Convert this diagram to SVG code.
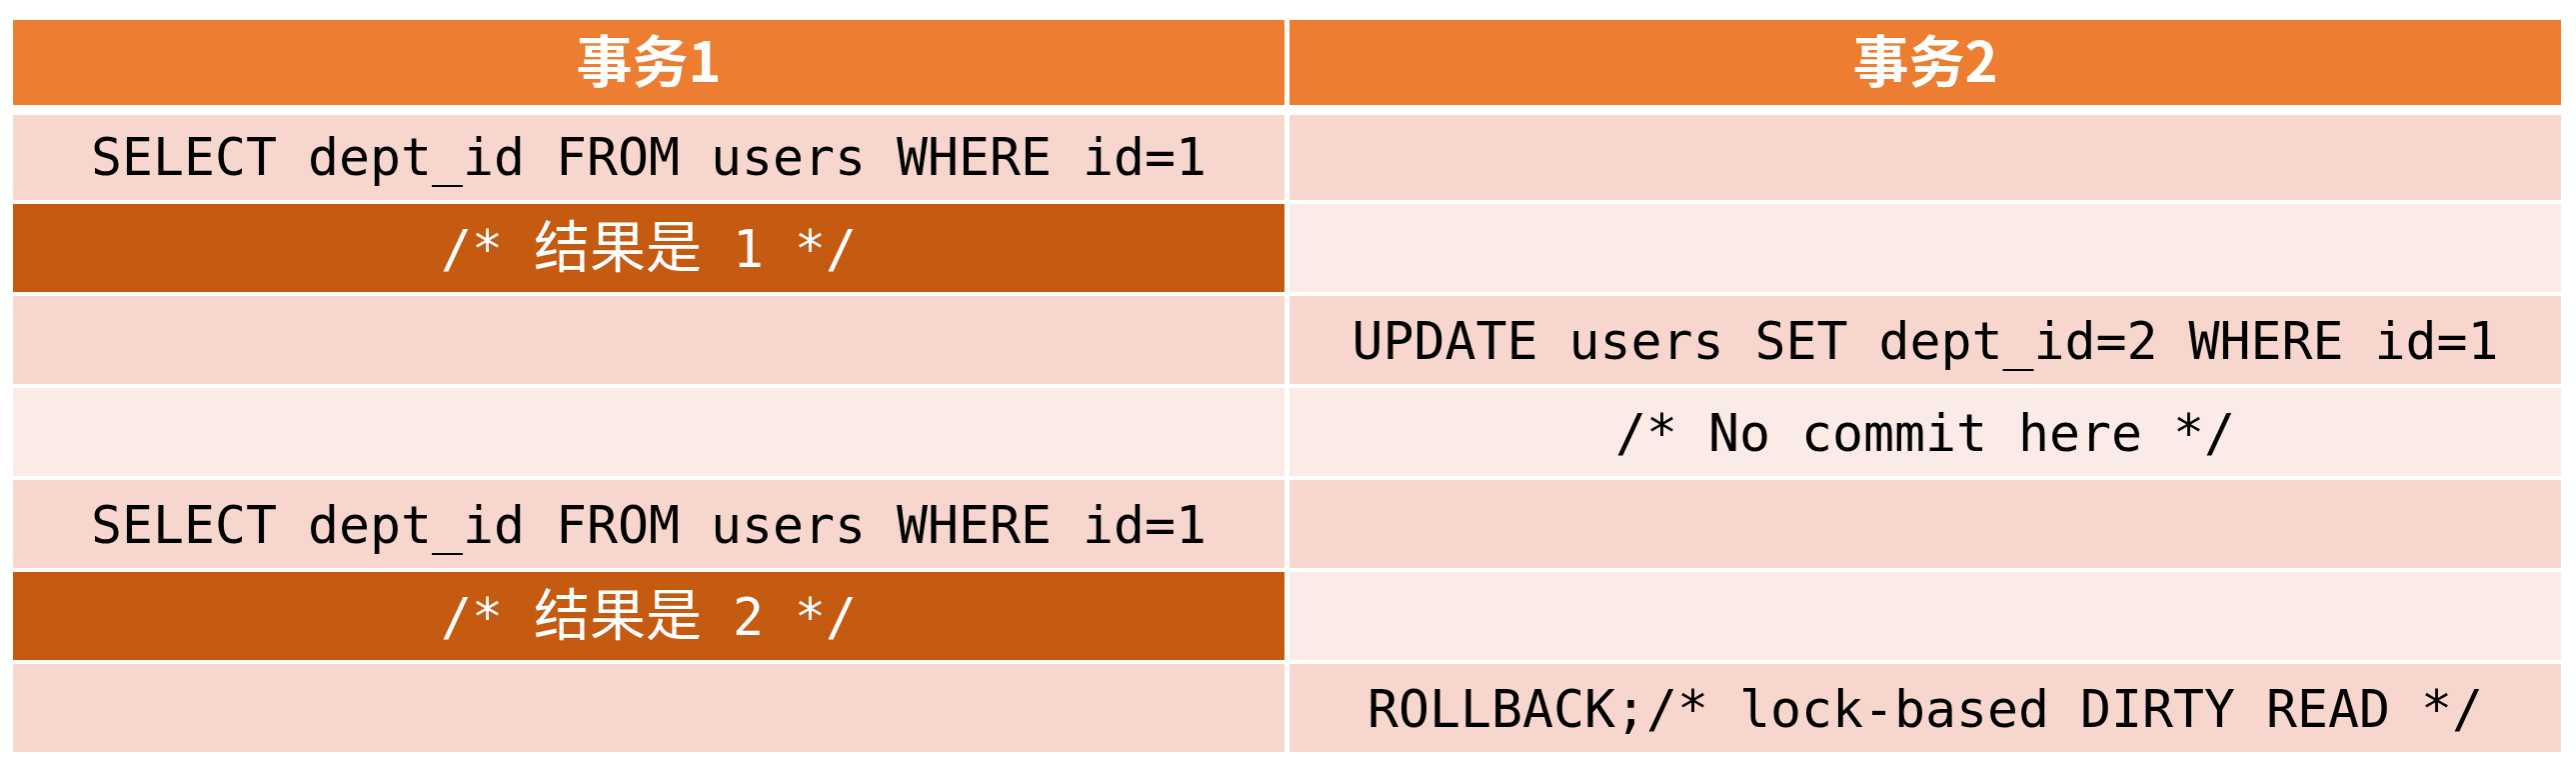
<svg xmlns="http://www.w3.org/2000/svg" width="2577" height="762" viewBox="0 0 2577 762">
<style>
.hd{fill:#ED7D31}
.dk{fill:#C55A11}
.l1{fill:#F7D7CD}
.l2{fill:#FAEBE6}
.ht{font-family:"Noto Sans CJK SC","Noto Sans",sans-serif;font-weight:bold;font-size:56px;fill:#FFFFFF;text-anchor:middle}
.mt{font-family:"DejaVu Sans Mono","Liberation Mono",monospace;font-size:51.5px;fill:#000000;text-anchor:middle}
.wt{fill:#FFFFFF}
.cj{font-family:"Noto Sans CJK SC",sans-serif;font-size:56px}
</style>
<rect x="0" y="0" width="2577" height="762" fill="#FFFFFF"/>
<g id="header1"><rect class="hd" x="13" y="20" width="1272" height="85"/><text class="ht" x="649" y="82">事务1</text></g>
<g id="header2"><rect class="hd" x="1290" y="20" width="1272" height="85"/><text class="ht" x="1926" y="82">事务2</text></g>

<g id="r1c1"><rect class="l1" x="13" y="115" width="1272" height="85"/><text class="mt" x="649" y="175">SELECT dept_id FROM users WHERE id=1</text></g>
<g id="r1c2"><rect class="l1" x="1290" y="115" width="1272" height="85"/></g>

<g id="r2c1"><rect class="dk" x="13" y="204" width="1272" height="88"/><text class="mt wt" x="649" y="267">/* <tspan class="cj">结果是</tspan> 1 */</text></g>
<g id="r2c2"><rect class="l2" x="1290" y="204" width="1272" height="88"/></g>

<g id="r3c1"><rect class="l1" x="13" y="296" width="1272" height="88"/></g>
<g id="r3c2"><rect class="l1" x="1290" y="296" width="1272" height="88"/><text class="mt" x="1926" y="359">UPDATE users SET dept_id=2 WHERE id=1</text></g>

<g id="r4c1"><rect class="l2" x="13" y="388" width="1272" height="88"/></g>
<g id="r4c2"><rect class="l2" x="1290" y="388" width="1272" height="88"/><text class="mt" x="1926" y="451">/* No commit here */</text></g>

<g id="r5c1"><rect class="l1" x="13" y="480" width="1272" height="88"/><text class="mt" x="649" y="543">SELECT dept_id FROM users WHERE id=1</text></g>
<g id="r5c2"><rect class="l1" x="1290" y="480" width="1272" height="88"/></g>

<g id="r6c1"><rect class="dk" x="13" y="572" width="1272" height="88"/><text class="mt wt" x="649" y="635">/* <tspan class="cj">结果是</tspan> 2 */</text></g>
<g id="r6c2"><rect class="l2" x="1290" y="572" width="1272" height="88"/></g>

<g id="r7c1"><rect class="l1" x="13" y="664" width="1272" height="88"/></g>
<g id="r7c2"><rect class="l1" x="1290" y="664" width="1272" height="88"/><text class="mt" x="1926" y="727">ROLLBACK;/* lock-based DIRTY READ */</text></g>
</svg>
